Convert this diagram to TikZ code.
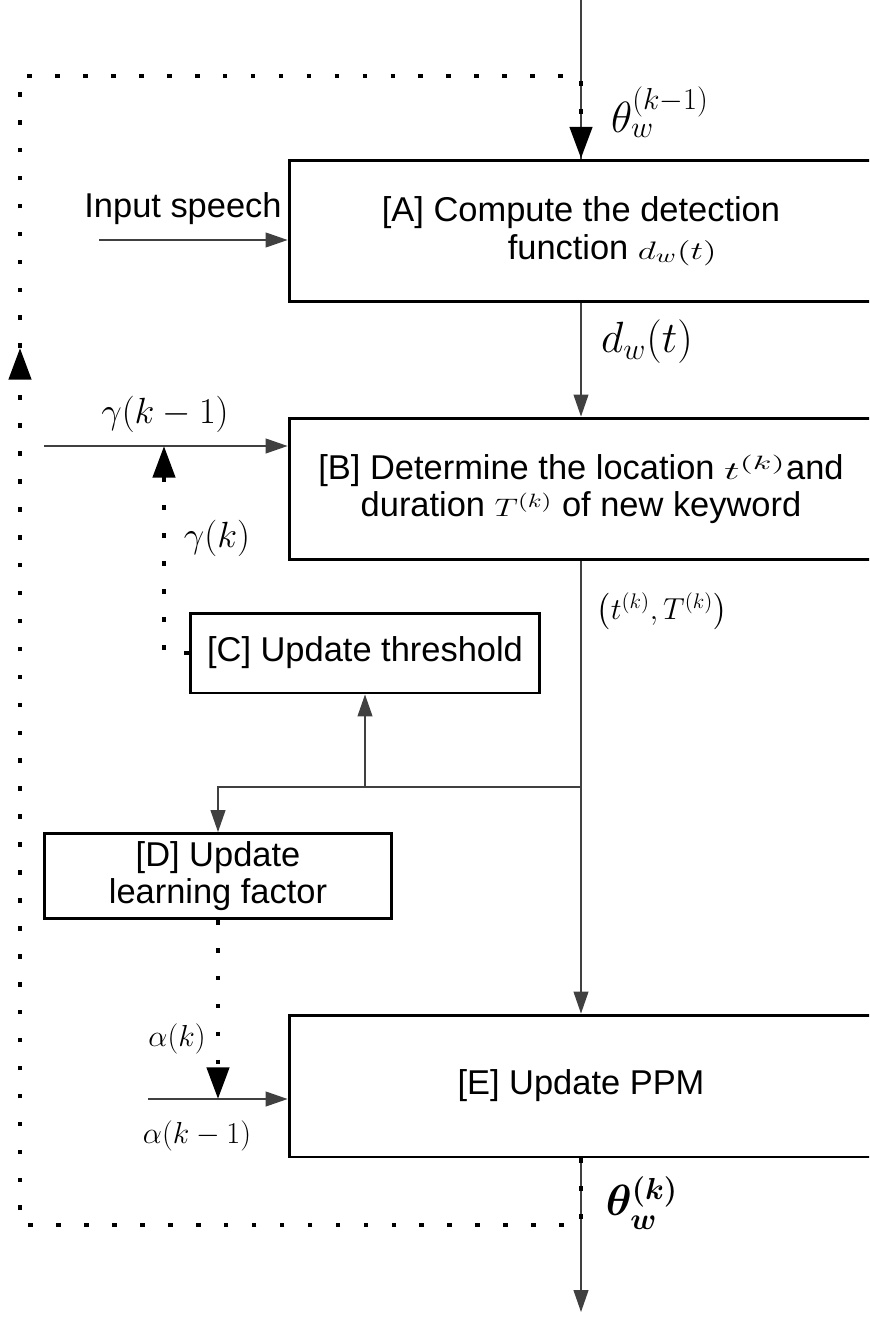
\documentclass[tikz,border=0pt]{standalone}
\usepackage[no-math]{fontspec}
\usepackage{amsmath}
\usepackage{graphicx}
\setmainfont{Liberation Sans}
\usetikzlibrary{arrows.meta}

\newcommand{\smath}[2][1]{\scalebox{#1}[1]{\fontsize{15}{17}\selectfont$#2$}}

\begin{document}
\begin{tikzpicture}[
  x=0.02cm, y=-0.02cm,
  blk/.style={draw, line width=1.7pt, align=center, inner sep=2pt,
              font=\fontsize{19.6}{21.5}\selectfont},
  wide/.style={blk, minimum width=11.68cm, minimum height=2.84cm},
  conn/.style={line width=0.7pt, black!75, -{Triangle[length=12.5pt, width=8.5pt]}},
  wire/.style={line width=0.7pt, black!75},
  fb/.style={line width=2.6pt, dash pattern=on 2.6pt off 13.3pt},
  bigtip/.style={-{Triangle[length=18pt, width=12.5pt]}},
  lab/.style={inner sep=0pt, font=\fontsize{19.6}{21.5}\selectfont},
  mlab/.style={inner sep=0pt, font=\fontsize{17}{19}\selectfont},
  glab/.style={inner sep=0pt, font=\fontsize{20}{22}\selectfont},
  biglab/.style={inner sep=0pt, font=\fontsize{24}{26}\selectfont},
  ]

\clip (0,0) rectangle (869,1318);

% ---- Blocks ----------------------------------------------------------------
\node[wide] (A) at (581,231)
  {[A] Compute the detection\\\hspace*{1.25cm}function \smath[1.4]{d_w(t)}};
\node[wide] (B) at (581,489)
  {[B] Determine the location \smath[1.75]{t^{(k)}}and\\duration \smath[1.3]{T^{(k)}} of new keyword};
\node[blk, minimum width=7cm, minimum height=1.6cm] (C) at (365,653)
  {[C] Update threshold};
\node[blk, minimum width=6.96cm, minimum height=1.7cm] (D) at (218,876)
  {[D] Update\\learning factor};
\node[wide] (E) at (581,1086) {[E] Update PPM};

% ---- Free ends ---------------------------------------------------------------
\coordinate (top) at (581,0);
\coordinate (in) at (99,240);
\coordinate (gin) at (44,446);
\coordinate (gk) at (164,446);
\coordinate (br) at (581,787);
\coordinate (ak) at (218,1099);
\coordinate (ain) at (148,1099);
\coordinate (out) at (581,1312);
\coordinate (fbB) at (581,1225);
\coordinate (fbBL) at (20,1225);
\coordinate (fbL) at (20,348);
\coordinate (fbTL) at (20,76);
\coordinate (fbT) at (581,76);

% ---- Solid connectors --------------------------------------------------------
\draw[wire] (top) -- (A.north);
\draw[conn] (in) -- (in -| A.west);
\draw[conn] (A.south) -- (B.north);
\draw[conn] (gin) -- (gin -| B.west);
\draw[conn] (B.south) -- (E.north);
\draw[conn] (br) -| (D.north);
\draw[conn] (br -| C.south) -- (C.south);
\draw[conn] (ain) -- (ain -| E.west);
\draw[conn] (E.south) -- (out);

% ---- Dotted updates ------------------------------------------------------------
\draw[fb, bigtip] (C.west) -| (gk);
\draw[fb, bigtip] (D.south) -- (ak);

% ---- Feedback of the model -----------------------------------------------------
\draw[fb, bigtip] (E.south) -- (fbB) -- (fbBL) -- (fbL);
\draw[fb, bigtip] (fbL) -- (fbTL) -- (fbT) -- (A.north);

% ---- Labels ----------------------------------------------------------------------
\node[lab] (lin) at (183,209) {Input speech};
\node[biglab] (lthA) at (660,112) {$\theta_w^{(k-1)}$};
\node[biglab] (ldw) at (647,342) {$d_w(t)$};
\node[glab] (lg1) at (165,414) {$\gamma(k-1)$};
\node[glab] (lgk) at (217,538) {$\gamma(k)$};
\node[inner sep=0pt, font=\fontsize{17.5}{19}\selectfont] (ltk) at (662,611)
  {$\left(t^{(k)},T^{(k)}\right)$};
\node[mlab] (lak) at (177,1039) {$\alpha(k)$};
\node[mlab] (la1) at (197,1136) {$\alpha(k-1)$};
\node[inner sep=0pt, font=\fontsize{25}{27}\selectfont] (lthE) at (642,1203)
  {$\boldsymbol{\theta_w^{(k)}}$};

\end{tikzpicture}
\end{document}
